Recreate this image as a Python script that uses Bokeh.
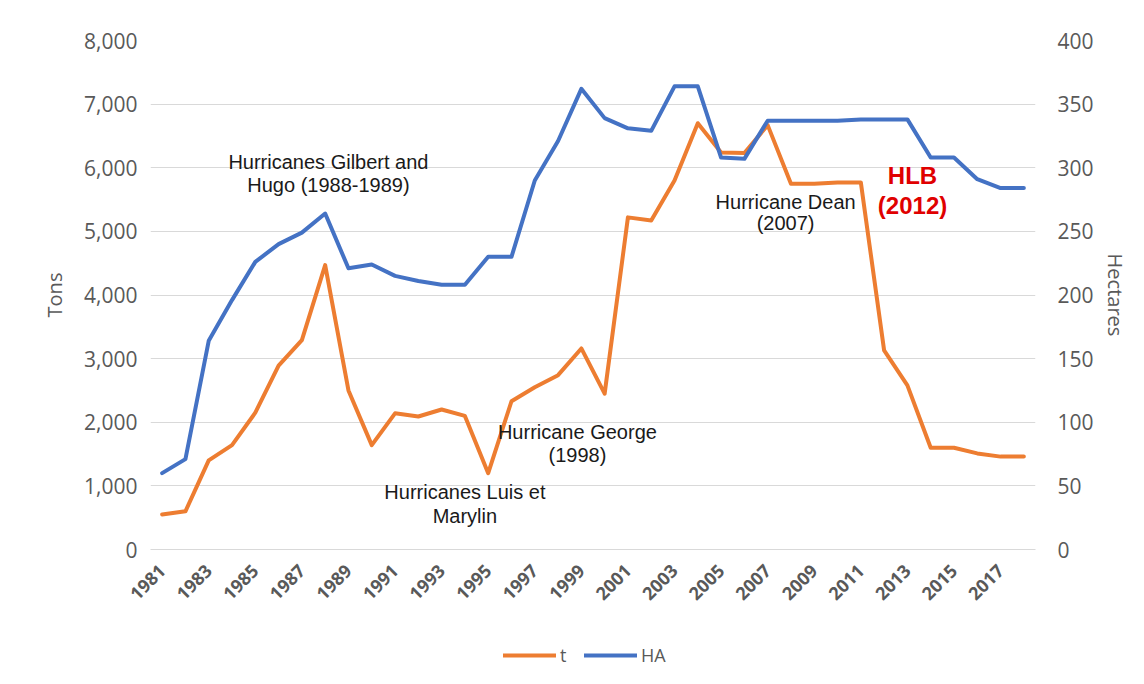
from math import pi
from bokeh.plotting import figure
from bokeh.layouts import column
from bokeh.models import (Range1d, LinearAxis, FixedTicker, NumeralTickFormatter,
                          Legend, LegendItem, ColumnDataSource)
from bokeh.core.properties import value
from bokeh.embed import file_html
from bokeh.resources import INLINE

# ---------------- data ----------------
years = list(range(1981, 2019))
tons = [550, 600, 1400, 1640, 2150, 2890, 3290, 4470, 2500, 1640,
        2140, 2090, 2200, 2100, 1200, 2330, 2550, 2740, 3160, 2450,
        5220, 5170, 5800, 6700, 6240, 6230, 6670, 5750, 5750, 5770,
        5770, 3130, 2580, 1600, 1600, 1510, 1460, 1460]
hectares = [60, 71, 164, 196, 226, 240, 249, 264, 221, 224,
            215, 211, 208, 208, 230, 230, 290, 321, 362, 339,
            331, 329, 364, 364, 308, 307, 337, 337, 337, 337,
            338, 338, 338, 308, 308, 291, 284, 284]

x_ticks = list(range(1981, 2018, 2))
left_ticks = list(range(0, 8001, 1000))
right_ticks = list(range(0, 401, 50))

note_text = ["Hurricanes Gilbert and", "Hugo (1988-1989)",
             "Hurricane Dean", "(2007)",
             "Hurricanes Luis et", "Marylin",
             "Hurricane George", "(1998)"]
note_x = [1988.14, 1988.14, 2007.77, 2007.77, 1994.0, 1994.0, 1998.83, 1998.83]
note_y = [6084, 5722, 5455, 5125, 896, 534, 1839, 1478]

hlb_text = ["HLB", "(2012)"]
hlb_x = [2013.22, 2013.22]
hlb_y = [5879, 5408]

series_labels = ["t", "HA"]

ORANGE = "#ED7D31"
BLUE = "#4472C4"
GRID = "#d9d9d9"
LABEL = "#595959"
FONT = "Open Sans"

p = figure(width=1140, height=620, output_backend="svg", toolbar_location=None,
           x_range=Range1d(1980.5, 2018.5), y_range=Range1d(0, 8000),
           min_border_left=150, min_border_right=105,
           min_border_top=40, min_border_bottom=71)
p.extra_y_ranges = {"ha": Range1d(0, 400)}
p.outline_line_color = None
p.background_fill_color = "white"
p.border_fill_color = "white"

# grid
p.xgrid.visible = False
p.ygrid.ticker = FixedTicker(ticks=left_ticks)
p.ygrid.grid_line_color = GRID
p.ygrid.grid_line_width = 1

# x axis
xa = p.xaxis[0]
xa.ticker = FixedTicker(ticks=x_ticks)
xa.major_label_orientation = pi / 4
xa.major_label_text_font = FONT
xa.major_label_text_font_size = "18px"
xa.major_label_text_font_style = "bold"
xa.major_label_text_color = LABEL
xa.axis_line_color = GRID
xa.major_tick_line_color = None
xa.minor_tick_line_color = None
xa.major_label_standoff = 12

# left axis
ya = p.yaxis[0]
ya.ticker = FixedTicker(ticks=left_ticks)
ya.formatter = NumeralTickFormatter(format="0,0")
ya.axis_label = "Tons"
ya.axis_label_text_font = FONT
ya.axis_label_text_font_size = "20px"
ya.axis_label_text_font_style = "normal"
ya.axis_label_text_color = LABEL
ya.axis_label_standoff = 13
ya.major_label_text_font = FONT
ya.major_label_text_font_size = "21px"
ya.major_label_text_color = LABEL
ya.axis_line_color = None
ya.major_tick_line_color = None
ya.minor_tick_line_color = None
ya.major_label_standoff = 7

# right axis
ra = LinearAxis(y_range_name="ha", ticker=FixedTicker(ticks=right_ticks),
                axis_label="Hectares")
ra.axis_label_text_font = FONT
ra.axis_label_text_font_size = "20px"
ra.axis_label_text_font_style = "normal"
ra.axis_label_text_color = LABEL
ra.axis_label_standoff = 5
ra.major_label_text_font = FONT
ra.major_label_text_font_size = "21px"
ra.major_label_text_color = LABEL
ra.axis_line_color = None
ra.major_tick_line_color = None
ra.minor_tick_line_color = None
ra.major_label_standoff = 16
p.add_layout(ra, "right")

# lines
src = ColumnDataSource(dict(year=years, tons=tons, ha=hectares))
p.line("year", "tons", source=src, line_color=ORANGE, line_width=4,
       line_join="round", line_cap="round")
p.line("year", "ha", source=src, y_range_name="ha", line_color=BLUE,
       line_width=4, line_join="round", line_cap="round")

# annotations
nsrc = ColumnDataSource(dict(x=note_x, y=note_y, text=note_text))
p.text("x", "y", text="text", source=nsrc, text_font=value("Liberation Sans"),
       text_font_size="20px", text_color="#1a1a1a", text_align="center",
       text_baseline="middle")
hsrc = ColumnDataSource(dict(x=hlb_x, y=hlb_y, text=hlb_text))
p.text("x", "y", text="text", source=hsrc, text_font=value("Liberation Sans"),
       text_font_size="24px", text_font_style="bold", text_color="#E00000",
       text_align="center", text_baseline="middle")

# legend strip (separate figure below the chart)
lg = figure(width=1140, height=60, output_backend="svg", toolbar_location=None,
            x_range=Range1d(0, 1), y_range=Range1d(0, 1),
            x_axis_location=None, y_axis_location=None,
            min_border_left=0, min_border_right=0,
            min_border_top=0, min_border_bottom=0)
lg.outline_line_color = None
lg.grid.visible = False
lg.border_fill_color = "white"
# off-range stand-in lines: only used to draw the legend swatches
d_t = lg.line(x=[-2, -1], y=[-2, -1], line_color=ORANGE, line_width=4,
              line_cap="round")
d_h = lg.line(x=[-2, -1], y=[-2, -1], line_color=BLUE, line_width=4,
              line_cap="round")
legend = Legend(items=[LegendItem(label=series_labels[0], renderers=[d_t]),
                       LegendItem(label=series_labels[1], renderers=[d_h])],
                orientation="horizontal", location=(353, 13),
                glyph_width=53, glyph_height=20, label_standoff=4, spacing=4,
                padding=0, margin=0, border_line_color=None,
                background_fill_alpha=0, label_text_font=FONT,
                label_text_font_size="18px", label_text_color=LABEL)
lg.add_layout(legend)

open("out.html", "w").write(file_html(column(p, lg, spacing=0), INLINE))
